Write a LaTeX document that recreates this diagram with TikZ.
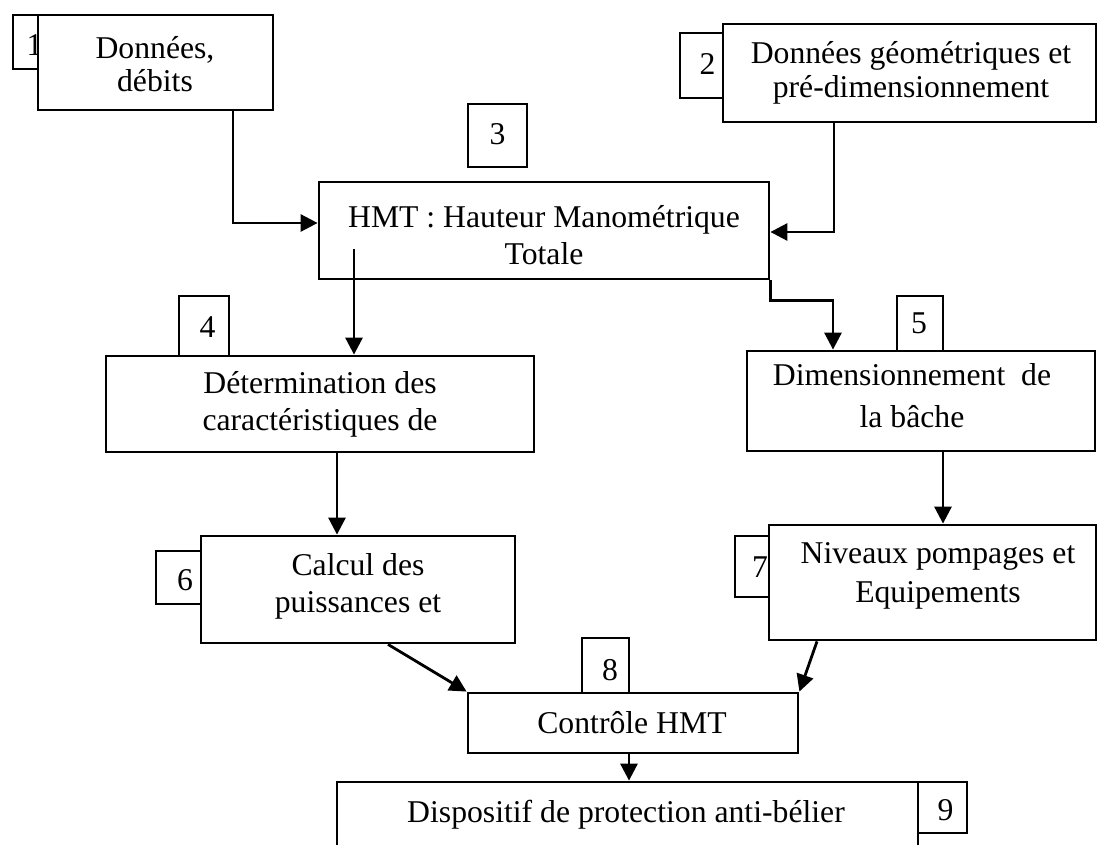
\documentclass[tikz,border=0pt]{standalone}
\usepackage{fontspec}
\setmainfont{Liberation Serif}
\usetikzlibrary{arrows.meta}
\begin{document}
\begin{tikzpicture}[x=1pt,y=-1pt,
  boxst/.style={draw=black, line width=2.8pt, fill=white, inner sep=0pt, rectangle},
  txt/.style={font=\fontsize{31.7}{37}\selectfont, align=center, inner sep=0pt, text=black},
  num/.style={font=\fontsize{31.7}{37}\selectfont, inner sep=0pt, anchor=base, text=black},
  arr/.style={draw=black, line width=2.8pt, -{Triangle[length=17pt,width=17pt]}},
]
\useasboundingbox (0,0) rectangle (1098,845);
% small number boxes
\node[boxst, minimum width=25pt, minimum height=54pt] (b1s) at (25.5,42) {};
\node[boxst, minimum width=43pt, minimum height=65pt] (b2s) at (701.5,65.5) {};
\node[boxst, minimum width=59pt, minimum height=63pt] (b3) at (497.5,135.5) {};
\node[boxst, minimum width=50pt, minimum height=60pt] (b4s) at (204,326) {};
\node[boxst, minimum width=46pt, minimum height=55pt] (b5s) at (920,323.5) {};
\node[boxst, minimum width=45pt, minimum height=53pt] (b6s) at (178.5,577.5) {};
\node[boxst, minimum width=34pt, minimum height=61pt] (b7s) at (752,566.5) {};
\node[boxst, minimum width=47pt, minimum height=55pt] (b8s) at (605.5,665.5) {};
\node[boxst, minimum width=49pt, minimum height=51pt] (b9s) at (942.5,807.5) {};
% numbers
\node[num] (n1) at (34.5,56) {1};
\node[num] (n2) at (707.5,75) {2};
\node[num] (n3) at (497.5,145) {3};
\node[num] (n4) at (207.5,337) {4};
\node[num] (n5) at (919,333) {5};
\node[num] (n6) at (185,590) {6};
\node[num] (n7) at (760,577) {7};
\node[num] (n8) at (610,680) {8};
\node[num] (n9) at (945.5,820) {9};
% main boxes
\node[boxst, minimum width=235pt, minimum height=95pt] (b1) at (155.5,62.5) {};
\node[boxst, minimum width=373pt, minimum height=98pt] (b2) at (909.5,73) {};
\node[boxst, minimum width=450pt, minimum height=97pt] (bH) at (544,230.5) {};
\node[boxst, minimum width=428pt, minimum height=96pt] (b4) at (320,404) {};
\node[boxst, minimum width=348pt, minimum height=100pt] (b5) at (921,401) {};
\node[boxst, minimum width=314pt, minimum height=107pt] (b6) at (358,589.5) {};
\node[boxst, minimum width=327pt, minimum height=115pt] (b7) at (932.5,582.5) {};
\node[boxst, minimum width=330pt, minimum height=60pt] (b8) at (633,723) {};
\node[boxst, minimum width=581pt, minimum height=98pt] (b9) at (627.5,831) {};
% texts
\node[txt, anchor=north] (t1) at (155,32.1) {\strut Données,\\[-4pt]débits};
\node[txt, anchor=north] (t2) at (911,37.1) {\strut Données géométriques et\\[-3pt]pré-dimensionnement};
\node[txt, anchor=north] (tH) at (544,201.1) {\strut HMT : Hauteur Manométrique\\Totale};
\node[txt, anchor=north] (t4) at (320,367.1) {\strut Détermination des\\caractéristiques de};
\node[txt, anchor=north] (t5) at (912,359.1) {\strut Dimensionnement\ \ de\\[5pt]la bâche};
\node[txt, anchor=north] (t6) at (358,549.1) {\strut Calcul des\\puissances et};
\node[txt, anchor=north] (t7) at (938,537.1) {\strut Niveaux pompages et\\[2pt]Equipements};
\node[num] (t8) at (632,733) {Contrôle HMT};
\node[num] (t9) at (626,822) {Dispositif de protection anti-bélier};
% connectors
\draw[arr] ([xshift=77.5pt]b1.south) |- ([yshift=7.5pt]bH.west);
\draw[arr] ([xshift=-75.5pt]b2.south) |- ([yshift=-1.5pt]bH.east);
\path ([xshift=-190pt,yshift=-18.5pt]bH.center) coordinate (cH4);
\draw[arr] (cH4) -- (cH4 |- b4.north);
\path ([xshift=-88pt]b5.north) coordinate (cH5);
\draw[arr] (bH.south east) -- ++(0,20) -| (cH5);
\path ([xshift=17pt]b4.south) coordinate (c46);
\draw[arr] (c46) -- (c46 |- b6.north);
\path ([xshift=22pt]b5.south) coordinate (c57);
\draw[arr] (c57) -- (c57 |- b7.north);
\draw[arr] ([xshift=30pt]b6.south) -- (b8.north west);
\draw[arr] ([xshift=-115.5pt]b7.south) -- (b8.north east);
\path ([xshift=-4pt]b8.south) coordinate (c89);
\draw[arr] (c89) -- (c89 |- b9.north);
\end{tikzpicture}
\end{document}
